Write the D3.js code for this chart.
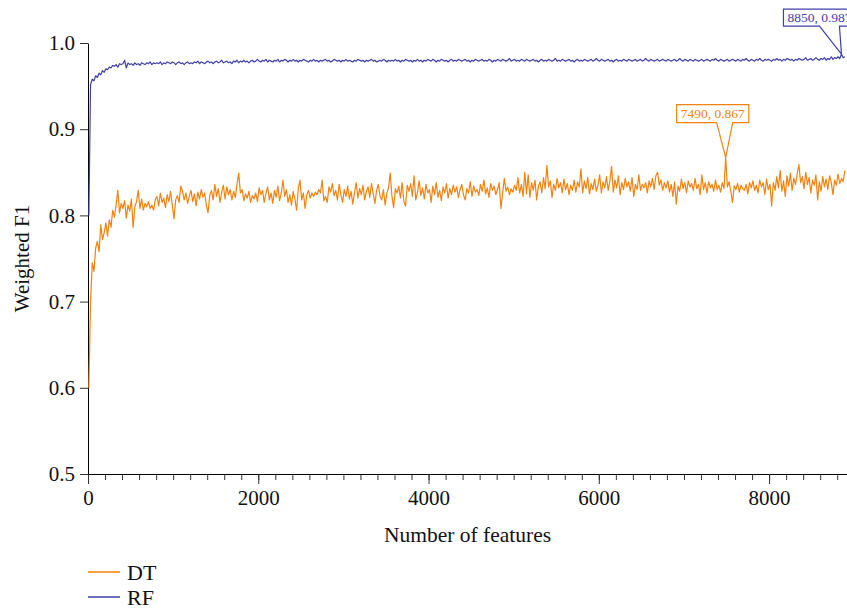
<!DOCTYPE html>
<html>
<head>
<meta charset="utf-8">
<script src="https://cdn.jsdelivr.net/npm/d3@7"></script>
<style>
  body { margin: 0; background: #fff; }
  svg { display: block; font-family: "Liberation Serif", "DejaVu Serif", serif; }
</style>
</head>
<body>
<svg width="847" height="610"></svg>
<script>
// number of features tested: 10, 30, 50, ... 8890
const FEATURES = d3.range(10, 8900, 20);

const DT_F1 = [
  0.600, 0.700, 0.745, 0.735, 0.762, 0.770, 0.758, 0.789, 0.772, 0.780,
  0.791, 0.776, 0.795, 0.786, 0.806, 0.798, 0.812, 0.829, 0.803, 0.814,
  0.808, 0.817, 0.797, 0.812, 0.805, 0.819, 0.786, 0.810, 0.816, 0.829,
  0.808, 0.819, 0.806, 0.814, 0.810, 0.816, 0.808, 0.812, 0.806, 0.818,
  0.822, 0.811, 0.826, 0.815, 0.820, 0.809, 0.824, 0.816, 0.828, 0.812,
  0.796, 0.818, 0.823, 0.815, 0.834, 0.828, 0.818, 0.826, 0.814, 0.822,
  0.829, 0.816, 0.825, 0.811, 0.827, 0.819, 0.830, 0.821, 0.826, 0.812,
  0.803, 0.823, 0.829, 0.818, 0.836, 0.822, 0.831, 0.815, 0.827, 0.835,
  0.819, 0.833, 0.824, 0.830, 0.818, 0.828, 0.821, 0.836, 0.849, 0.826,
  0.830, 0.817, 0.825, 0.820, 0.828, 0.815, 0.823, 0.819, 0.826, 0.816,
  0.832, 0.824, 0.829, 0.815, 0.826, 0.833, 0.818, 0.826, 0.814, 0.829,
  0.821, 0.834, 0.817, 0.826, 0.841, 0.822, 0.830, 0.815, 0.824, 0.812,
  0.828, 0.819, 0.806, 0.831, 0.841, 0.818, 0.826, 0.808, 0.824, 0.829,
  0.820, 0.826, 0.822, 0.827, 0.824, 0.830, 0.826, 0.841, 0.817, 0.822,
  0.815, 0.833, 0.827, 0.837, 0.823, 0.829, 0.818, 0.836, 0.824, 0.815,
  0.830, 0.822, 0.834, 0.819, 0.828, 0.813, 0.826, 0.838, 0.820, 0.831,
  0.824, 0.835, 0.818, 0.828, 0.833, 0.821, 0.837, 0.825, 0.814, 0.829,
  0.836, 0.822, 0.818, 0.830, 0.812, 0.826, 0.832, 0.849, 0.822, 0.809,
  0.831, 0.826, 0.834, 0.820, 0.838, 0.816, 0.811, 0.835, 0.828, 0.837,
  0.822, 0.846, 0.818, 0.827, 0.840, 0.823, 0.832, 0.819, 0.836, 0.826,
  0.830, 0.815, 0.834, 0.824, 0.838, 0.821, 0.829, 0.817, 0.833, 0.826,
  0.837, 0.820, 0.831, 0.824, 0.835, 0.827, 0.833, 0.821, 0.830, 0.836,
  0.824, 0.818, 0.831, 0.826, 0.839, 0.822, 0.834, 0.827, 0.830, 0.823,
  0.836, 0.828, 0.841, 0.825, 0.832, 0.821, 0.837, 0.829, 0.834, 0.824,
  0.830, 0.838, 0.808, 0.826, 0.843, 0.828, 0.833, 0.824, 0.831, 0.827,
  0.835, 0.829, 0.844, 0.826, 0.836, 0.822, 0.850, 0.825, 0.847, 0.821,
  0.838, 0.829, 0.841, 0.818, 0.834, 0.839, 0.826, 0.844, 0.831, 0.858,
  0.833, 0.840, 0.821, 0.836, 0.829, 0.843, 0.832, 0.838, 0.826, 0.842,
  0.830, 0.837, 0.824, 0.835, 0.829, 0.841, 0.827, 0.839, 0.833, 0.854,
  0.826, 0.840, 0.831, 0.844, 0.825, 0.837, 0.830, 0.842, 0.828, 0.835,
  0.847, 0.826, 0.839, 0.832, 0.845, 0.829, 0.840, 0.857, 0.827, 0.841,
  0.832, 0.846, 0.824, 0.838, 0.830, 0.843, 0.833, 0.839, 0.828, 0.844,
  0.822, 0.836, 0.830, 0.847, 0.829, 0.836, 0.832, 0.838, 0.826, 0.840,
  0.833, 0.843, 0.830, 0.846, 0.850, 0.835, 0.841, 0.829, 0.838, 0.832,
  0.840, 0.827, 0.836, 0.822, 0.839, 0.813, 0.834, 0.828, 0.842, 0.831,
  0.838, 0.826, 0.840, 0.833, 0.837, 0.829, 0.843, 0.831, 0.836, 0.824,
  0.847, 0.830, 0.838, 0.826, 0.839, 0.832, 0.836, 0.828, 0.841, 0.830,
  0.835, 0.827, 0.838, 0.831, 0.867, 0.833, 0.839, 0.828, 0.815, 0.834,
  0.830, 0.837, 0.827, 0.835, 0.831, 0.829, 0.836, 0.825, 0.838, 0.832,
  0.840, 0.829, 0.835, 0.826, 0.841, 0.833, 0.838, 0.824, 0.842, 0.830,
  0.836, 0.811, 0.838, 0.829, 0.845, 0.832, 0.852, 0.828, 0.840, 0.822,
  0.846, 0.834, 0.849, 0.829, 0.843, 0.836, 0.848, 0.859, 0.838, 0.845,
  0.831, 0.850, 0.836, 0.844, 0.826, 0.841, 0.835, 0.847, 0.818, 0.839,
  0.828, 0.845, 0.833, 0.842, 0.830, 0.846, 0.838, 0.824, 0.841, 0.835,
  0.848, 0.837, 0.843, 0.839, 0.852
];

const RF_F1 = [
  0.800, 0.952, 0.958, 0.956, 0.962, 0.960, 0.965, 0.963, 0.968, 0.966,
  0.970, 0.969, 0.972, 0.971, 0.974, 0.973, 0.975, 0.972, 0.976, 0.975,
  0.976, 0.980, 0.971, 0.977, 0.975, 0.976, 0.974, 0.977, 0.975, 0.976,
  0.974, 0.977, 0.976, 0.975, 0.977, 0.976, 0.978, 0.975, 0.977, 0.976,
  0.977, 0.976, 0.978, 0.975, 0.977, 0.976, 0.978, 0.977, 0.976, 0.978,
  0.977, 0.975, 0.977, 0.978, 0.976, 0.977, 0.975, 0.977, 0.978, 0.976,
  0.977, 0.976, 0.978, 0.977, 0.979, 0.976, 0.978, 0.977, 0.976, 0.978,
  0.979, 0.977, 0.978, 0.976, 0.978, 0.979, 0.977, 0.978, 0.980, 0.977,
  0.978, 0.979, 0.977, 0.978, 0.976, 0.979, 0.978, 0.980, 0.977, 0.979,
  0.978, 0.980, 0.978, 0.979, 0.977, 0.979, 0.980, 0.978, 0.979, 0.981,
  0.979, 0.978, 0.980, 0.979, 0.981, 0.978, 0.980, 0.979, 0.978, 0.980,
  0.979, 0.981, 0.978, 0.980, 0.979, 0.981, 0.980, 0.978, 0.980, 0.979,
  0.981, 0.979, 0.980, 0.978, 0.980, 0.979, 0.981, 0.980, 0.979, 0.978,
  0.980, 0.979, 0.981, 0.979, 0.980, 0.978, 0.980, 0.979, 0.980, 0.981,
  0.979, 0.980, 0.978, 0.979, 0.981, 0.980, 0.979, 0.980, 0.978, 0.980,
  0.979, 0.981, 0.979, 0.980, 0.979, 0.978, 0.980, 0.979, 0.981, 0.980,
  0.979, 0.980, 0.978, 0.980, 0.979, 0.980, 0.981, 0.979, 0.980, 0.978,
  0.979, 0.980, 0.979, 0.981, 0.980, 0.978, 0.980, 0.979, 0.980, 0.979,
  0.981, 0.979, 0.980, 0.978, 0.980, 0.979, 0.981, 0.980, 0.979, 0.980,
  0.978, 0.980, 0.979, 0.981, 0.979, 0.980, 0.978, 0.980, 0.979, 0.981,
  0.980, 0.979, 0.981, 0.980, 0.978, 0.980, 0.979, 0.981, 0.980, 0.979,
  0.980, 0.978, 0.980, 0.981, 0.979, 0.980, 0.979, 0.981, 0.980, 0.979,
  0.980, 0.981, 0.979, 0.980, 0.978, 0.980, 0.979, 0.981, 0.980, 0.979,
  0.980, 0.981, 0.979, 0.980, 0.979, 0.981, 0.980, 0.978, 0.980, 0.979,
  0.981, 0.980, 0.979, 0.981, 0.980, 0.979, 0.980, 0.982, 0.979, 0.980,
  0.981, 0.979, 0.980, 0.979, 0.981, 0.980, 0.979, 0.981, 0.980, 0.979,
  0.980, 0.981, 0.979, 0.980, 0.978, 0.980, 0.981, 0.979, 0.980, 0.979,
  0.981, 0.980, 0.979, 0.980, 0.982, 0.979, 0.980, 0.979, 0.981, 0.980,
  0.979, 0.980, 0.981, 0.979, 0.980, 0.978, 0.980, 0.981, 0.979, 0.980,
  0.979, 0.981, 0.980, 0.979, 0.980, 0.981, 0.979, 0.980, 0.982, 0.980,
  0.979, 0.981, 0.980, 0.979, 0.980, 0.981, 0.979, 0.980, 0.978, 0.980,
  0.981, 0.979, 0.980, 0.979, 0.981, 0.980, 0.979, 0.981, 0.980, 0.979,
  0.980, 0.981, 0.979, 0.980, 0.981, 0.979, 0.980, 0.982, 0.980, 0.979,
  0.981, 0.980, 0.979, 0.980, 0.981, 0.979, 0.980, 0.981, 0.980, 0.979,
  0.981, 0.980, 0.979, 0.980, 0.981, 0.979, 0.980, 0.982, 0.980, 0.979,
  0.981, 0.980, 0.979, 0.981, 0.980, 0.979, 0.981, 0.980, 0.979, 0.980,
  0.981, 0.979, 0.980, 0.981, 0.980, 0.979, 0.981, 0.980, 0.982, 0.980,
  0.979, 0.981, 0.980, 0.979, 0.980, 0.981, 0.979, 0.980, 0.981, 0.980,
  0.979, 0.981, 0.980, 0.979, 0.981, 0.980, 0.982, 0.980, 0.979, 0.981,
  0.980, 0.979, 0.981, 0.980, 0.982, 0.980, 0.979, 0.981, 0.980, 0.981,
  0.980, 0.979, 0.981, 0.980, 0.982, 0.980, 0.981, 0.979, 0.981, 0.980,
  0.982, 0.981, 0.980, 0.981, 0.979, 0.981, 0.980, 0.982, 0.981, 0.980,
  0.981, 0.983, 0.980, 0.981, 0.982, 0.980, 0.981, 0.983, 0.981, 0.980,
  0.982, 0.981, 0.983, 0.980, 0.982, 0.981, 0.984, 0.981, 0.983, 0.982,
  0.984, 0.982, 0.987, 0.983, 0.984
];

const SERIES_NAMES = ['DT', 'RF'];
const SERIES_COLOURS = ['#f5820f', '#3f3fa6'];
const X_TICKS = [0, 2000, 4000, 6000, 8000];
const X_MINOR_TICKS = d3.range(0, 8901, 200);
const Y_TICKS = [0.5, 0.6, 0.7, 0.8, 0.9, 1.0];

// highlighted points: [series, features, F1]
const CALLOUTS = [
  ['DT', 7490, 0.867],
  ['RF', 8850, 0.987]
];

const svg = d3.select('svg');

const PLOT_LEFT = 88;
const PLOT_RIGHT = 847;
const PLOT_TOP = 43;
const PLOT_BOTTOM = 474;

const X_SCALE = d3.scaleLinear().domain([0, 8915]).range([PLOT_LEFT, PLOT_RIGHT]);
const Y_SCALE = d3.scaleLinear().domain([0.5, 1.0]).range([PLOT_BOTTOM, PLOT_TOP]);

const seriesData = [DT_F1, RF_F1].map((values, s) => ({
  name: SERIES_NAMES[s],
  colour: SERIES_COLOURS[s],
  points: values.map((v, i) => [FEATURES[i], v])
}));

// minor x ticks first, so the axis line sits on top
svg.append('g')
  .attr('transform', `translate(0,${PLOT_BOTTOM})`)
  .call(d3.axisBottom(X_SCALE).tickValues(X_MINOR_TICKS).tickSize(6).tickFormat(''))
  .call(g => g.select('.domain').remove())
  .call(g => g.selectAll('line').attr('stroke', '#333'));

const xAxis = svg.append('g')
  .attr('transform', `translate(0,${PLOT_BOTTOM})`)
  .call(d3.axisBottom(X_SCALE).tickValues(X_TICKS).tickSize(10).tickSizeOuter(0).tickPadding(6).tickFormat(d3.format('d')));

xAxis.select('.domain').attr('stroke', '#000');
xAxis.selectAll('line').attr('stroke', '#333');
xAxis.selectAll('text')
  .style('font-size', '21px')
  .style('font-family', '"Liberation Serif", serif')
  .attr('fill', '#111');

const yAxis = svg.append('g')
  .attr('transform', `translate(${PLOT_LEFT},0)`)
  .call(d3.axisLeft(Y_SCALE).tickValues(Y_TICKS).tickSize(8).tickSizeOuter(0).tickPadding(5).tickFormat(d3.format('.1f')));

yAxis.select('.domain').attr('stroke', '#000');
yAxis.selectAll('line').attr('stroke', '#333');
yAxis.selectAll('text')
  .style('font-size', '21px')
  .style('font-family', '"Liberation Serif", serif')
  .attr('fill', '#111');

const line = d3.line()
  .x(d => X_SCALE(d[0]))
  .y(d => Y_SCALE(d[1]));

svg.selectAll('path.series')
  .data(seriesData)
  .join('path')
  .attr('class', 'series')
  .attr('d', d => line(d.points))
  .attr('fill', 'none')
  .attr('stroke', d => d.colour)
  .attr('stroke-width', 1.2)
  .attr('stroke-linejoin', 'round');

// axis titles
svg.append('text')
  .attr('x', (PLOT_LEFT + PLOT_RIGHT) / 2)
  .attr('y', 542)
  .attr('text-anchor', 'middle')
  .style('font-size', '21.5px')
  .attr('fill', '#111')
  .text('Number of features');

svg.append('text')
  .attr('transform', `translate(29,${(PLOT_TOP + PLOT_BOTTOM) / 2}) rotate(-90)`)
  .attr('text-anchor', 'middle')
  .style('font-size', '21px')
  .attr('fill', '#111')
  .text('Weighted F1');

// legend
const legend = svg.selectAll('g.legend')
  .data(seriesData)
  .join('g')
  .attr('class', 'legend')
  .attr('transform', (d, i) => `translate(88,${572 + i * 25})`);

legend.append('line')
  .attr('x1', 0).attr('x2', 32)
  .attr('stroke', d => d.colour)
  .attr('stroke-width', 1.5);

legend.append('text')
  .attr('x', 39)
  .attr('dy', '0.35em')
  .style('font-size', '22px')
  .attr('fill', '#111')
  .text(d => d.name);

// callout boxes: box offset from the tip and notch base, per series
const CALLOUT_LAYOUT = {
  DT: { boxDx: -49, boxDy: -53, boxH: 18, baseL: -9, baseR: 7 },
  RF: { boxDx: -58, boxDy: -45, boxH: 17, baseL: -22, baseR: -2 }
};

CALLOUTS.forEach(([name, fx, fy]) => {
  const s = seriesData.find(d => d.name === name);
  const lay = CALLOUT_LAYOUT[name];
  const tx = X_SCALE(fx);
  const ty = Y_SCALE(fy);
  const g = svg.append('g');
  const label = g.append('text')
    .style('font-size', '13.5px')
    .attr('fill', s.colour)
    .text(`${fx}, ${fy.toFixed(3)}`);
  const w = label.node().getComputedTextLength() + 8;
  const left = tx + lay.boxDx;
  const top = ty + lay.boxDy;
  const bottom = top + lay.boxH;
  const right = left + w;
  g.insert('path', 'text')
    .attr('d', `M${left},${top}H${right}V${bottom}H${tx + lay.baseR}L${tx},${ty}L${tx + lay.baseL},${bottom}H${left}Z`)
    .attr('fill', '#fff')
    .attr('stroke', s.colour)
    .attr('stroke-width', 1.2);
  label.attr('x', left + 4).attr('y', bottom - 4.5);
});
</script>
</body>
</html>
